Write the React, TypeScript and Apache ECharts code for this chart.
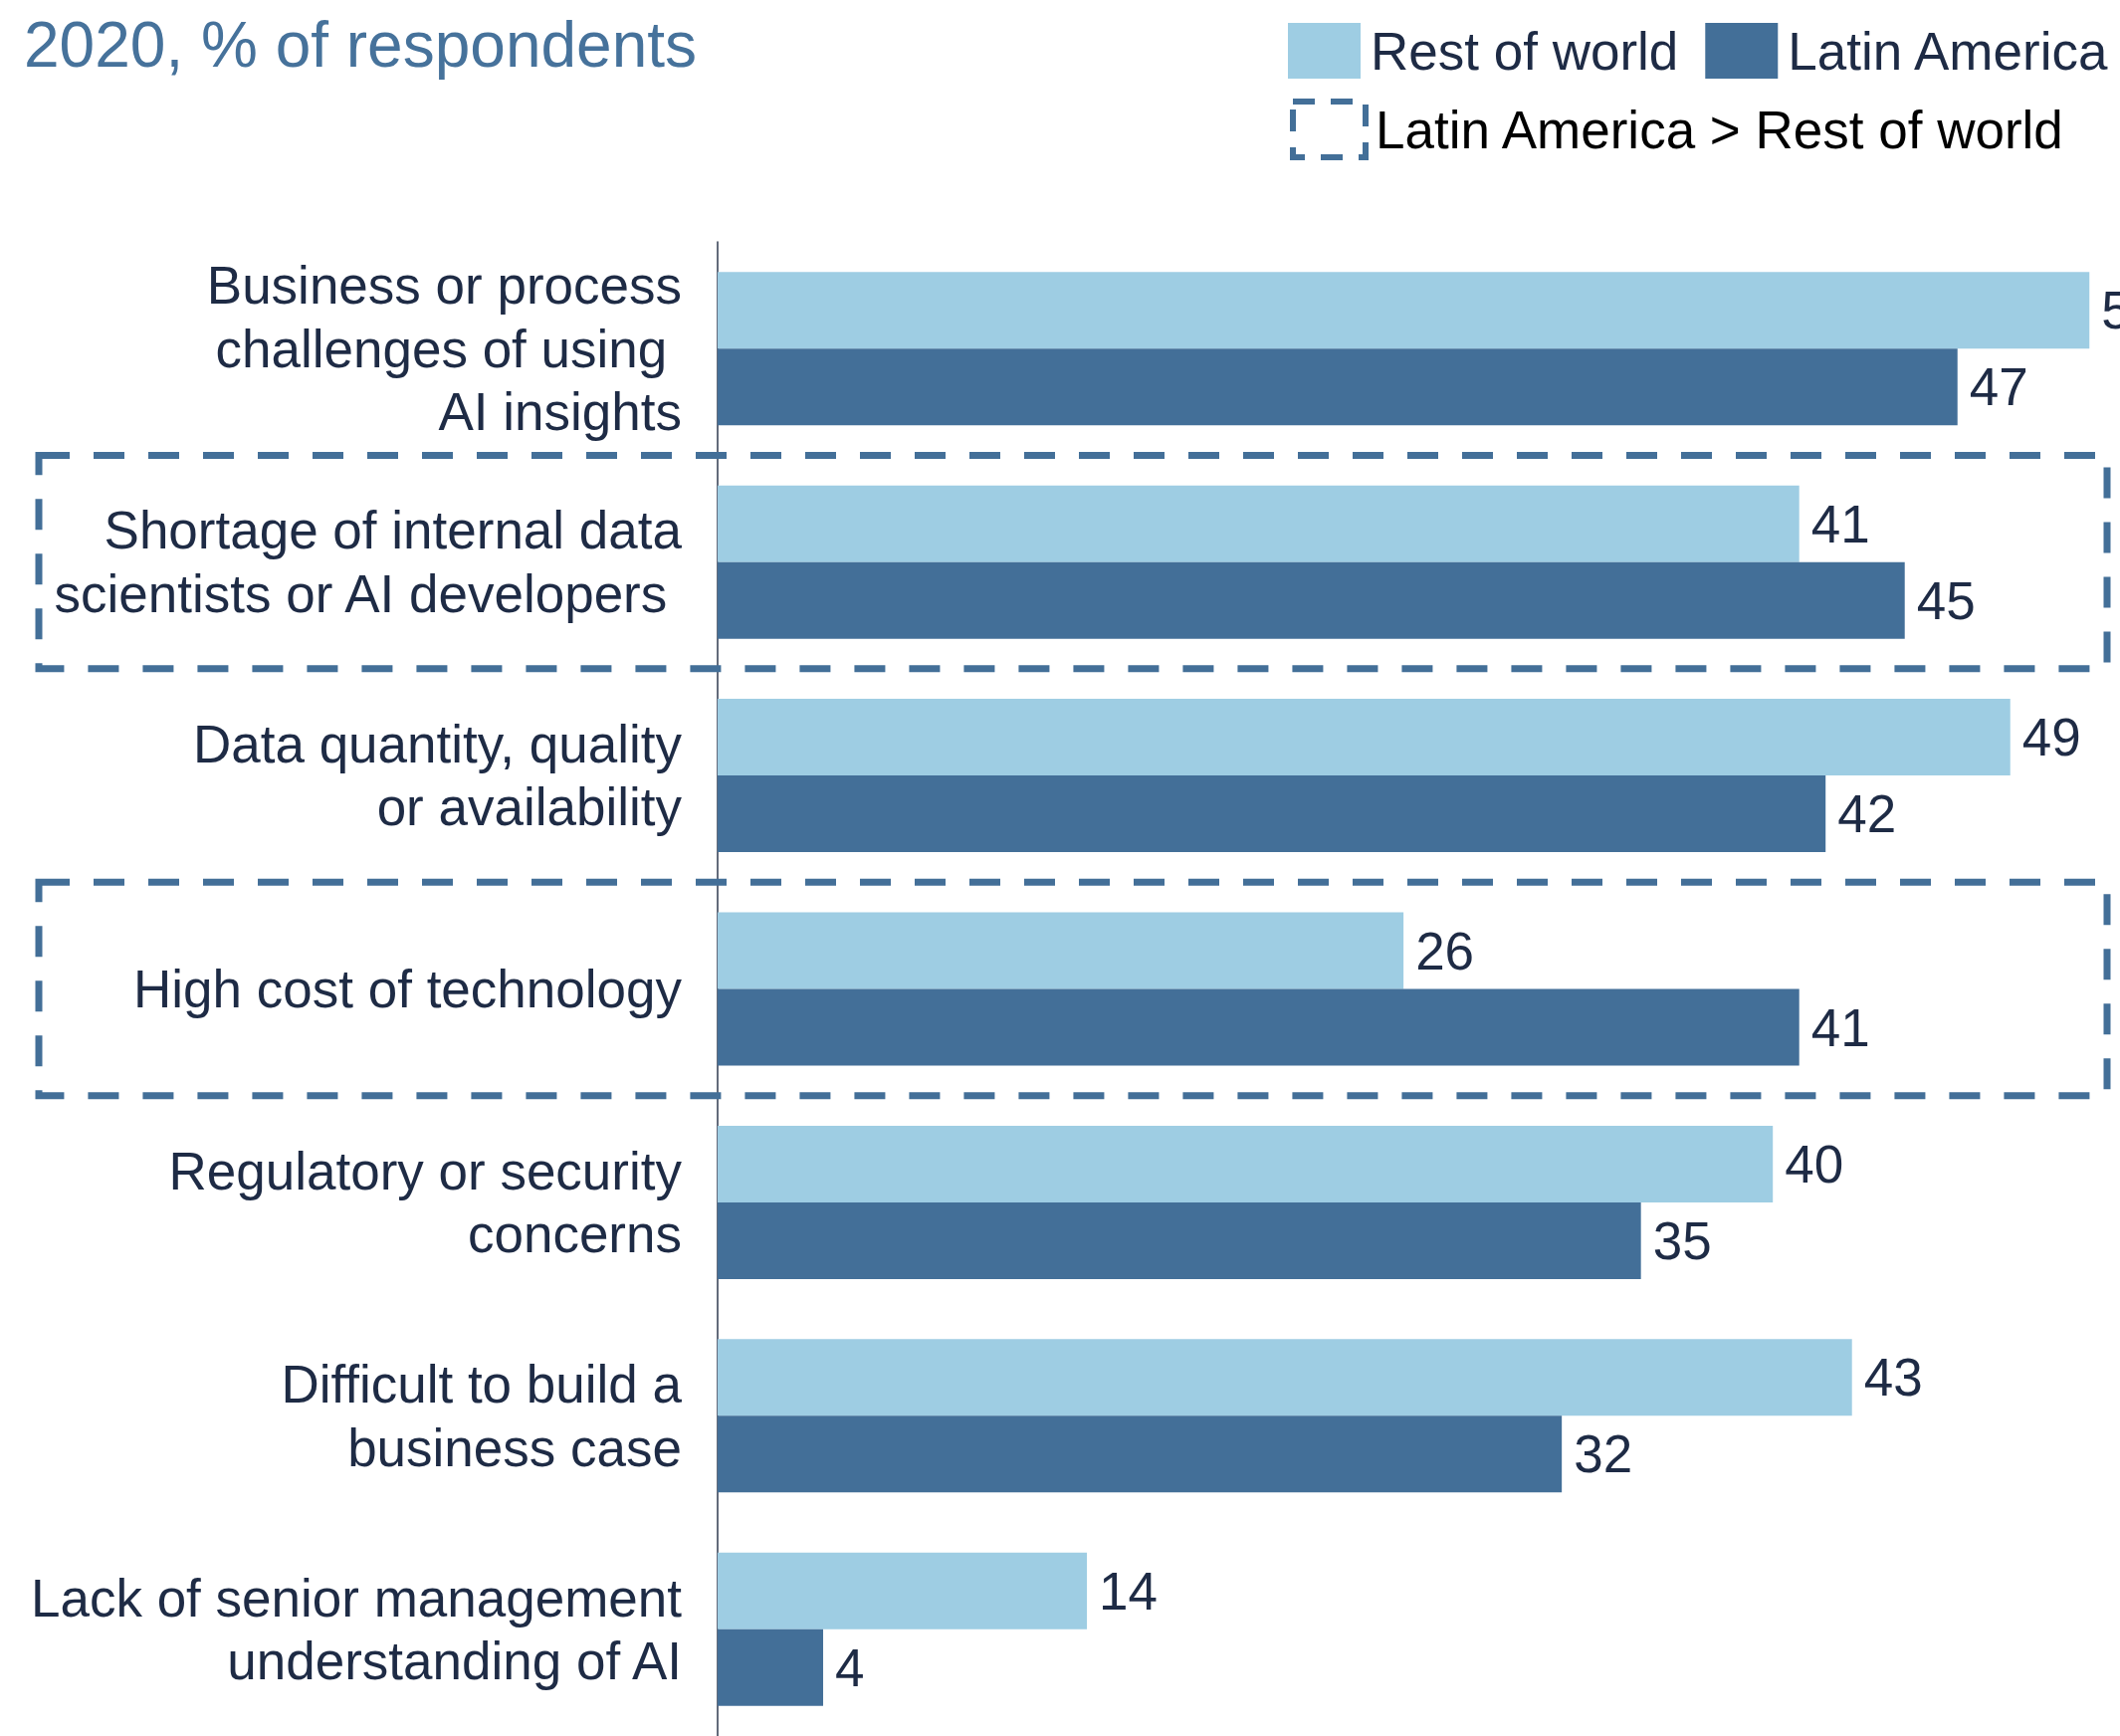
import React, { useEffect, useRef } from "react";
import * as echarts from "echarts";

const titleText = "2020, % of respondents";
const categories = [
  "Business or process\nchallenges of using \nAI insights",
  "Shortage of internal data\nscientists or AI developers ",
  "Data quantity, quality\nor availability",
  "High cost of technology",
  "Regulatory or security\nconcerns",
  "Difficult to build a\nbusiness case",
  "Lack of senior management\nunderstanding of AI",
];
const restOfWorld = [52, 41, 49, 26, 40, 43, 14];
const latinAmerica = [47, 45, 42, 41, 35, 32, 4];
const seriesNames = ["Rest of world", "Latin America"];
const highlightName = "Latin America > Rest of world";

const LIGHT = "#9ecde3";
const DARK = "#436f98";
const TEXT = "#1e2b45";
const FONT = "Liberation Sans, Arial, Helvetica, sans-serif";

export default function App() {
  const ref = useRef<HTMLDivElement>(null);
  useEffect(() => {
    document.body.style.margin = "0";
    const chart = echarts.init(ref.current!, null, { renderer: "svg" });
    const boxData = categories
      .map((_, i) => i)
      .filter((i) => latinAmerica[i] > restOfWorld[i])
      .map((i) => [0, i]);
    chart.setOption({
      animation: false,
      textStyle: { fontFamily: FONT },
      title: {
        text: titleText,
        left: 19,
        top: 8,
        textStyle: { fontSize: 64, fontWeight: "normal", color: "#46729b", fontFamily: FONT },
      },
      legend: [
        {
          data: seriesNames,
          left: 1294,
          top: 23,
          width: 900,
          padding: 0,
          itemWidth: 73,
          itemHeight: 56,
          itemGap: 27,
          icon: "rect",
          selectedMode: false,
          textStyle: { fontSize: 53, color: TEXT, fontFamily: FONT, padding: [8, 0, 0, 5] },
        },
        {
          data: [
            {
              name: highlightName,
              icon: "rect",
              itemStyle: {
                color: "rgba(0,0,0,0)",
                borderColor: DARK,
                borderWidth: 6,
                borderType: [22, 16],
              },
            },
          ],
          left: 1296,
          top: 99,
          width: 900,
          padding: 0,
          itemWidth: 73,
          itemHeight: 56,
          selectedMode: false,
          textStyle: { fontSize: 53, color: "#000000", fontFamily: FONT, padding: [8, 0, 0, 5] },
        },
      ],
      grid: { left: 721, right: 0, top: 243, height: 1507, containLabel: false },
      xAxis: {
        type: "value",
        min: 0,
        max: 53.16,
        show: false,
        splitLine: { show: false },
      },
      yAxis: {
        type: "category",
        data: categories,
        inverse: true,
        axisLine: { show: true, lineStyle: { color: "#2f3a4f", width: 1.5 } },
        axisTick: { show: false },
        axisLabel: {
          fontSize: 53,
          lineHeight: 63.5,
          color: TEXT,
          margin: 36,
          align: "right",
          fontFamily: FONT,
        },
      },
      series: [
        {
          name: seriesNames[0],
          type: "bar",
          data: restOfWorld,
          barWidth: 77,
          barGap: "0%",
          itemStyle: { color: LIGHT },
          label: {
            show: true,
            position: "right",
            distance: 12,
            fontSize: 53,
            color: TEXT,
            fontFamily: FONT,
          },
        },
        {
          name: seriesNames[1],
          type: "bar",
          data: latinAmerica,
          barWidth: 77,
          barGap: "0%",
          itemStyle: { color: DARK },
          label: {
            show: true,
            position: "right",
            distance: 12,
            fontSize: 53,
            color: TEXT,
            fontFamily: FONT,
          },
        },
        {
          name: highlightName,
          type: "custom",
          silent: true,
          clip: false,
          data: boxData,
          encode: { x: 0, y: 1 },
          itemStyle: { color: "rgba(0,0,0,0)", borderColor: DARK },
          renderItem: (params: any, api: any) => {
            const idx = api.value(1);
            const c = api.coord([0, idx]);
            const band = api.size([0, 1])[1];
            return {
              type: "rect",
              shape: { x: 39, y: c[1] - band / 2, width: 2117 - 39, height: band },
              style: { fill: "none", stroke: DARK, lineWidth: 7, lineDash: [31, 24] },
              z2: 10,
            };
          },
        },
      ],
    });
    return () => chart.dispose();
  }, []);
  return <div ref={ref} style={{ width: 2130, height: 1744 }} />;
}
